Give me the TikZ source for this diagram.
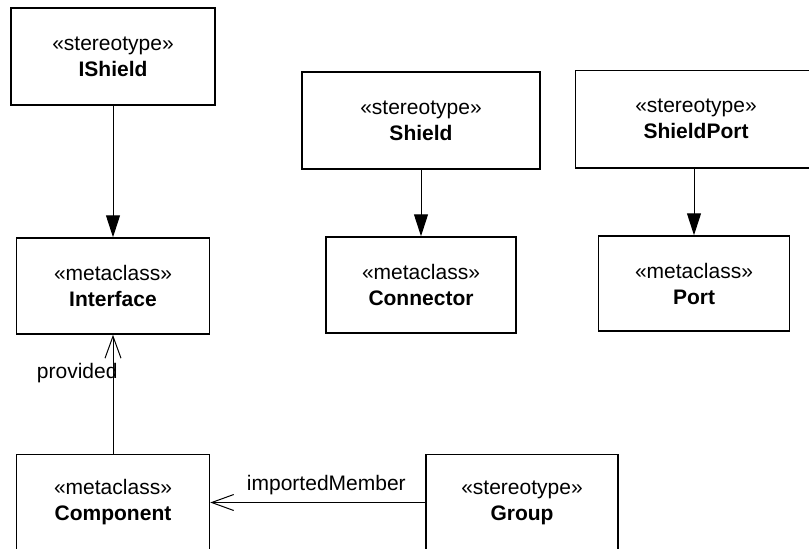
\documentclass[tikz,border=0pt]{standalone}
\usepackage{fontspec}
\setmainfont{Liberation Sans}
\usepackage{tikz}
\usetikzlibrary{arrows.meta}

\tikzset{
  umlbox/.style={draw,line width=1.5pt,rectangle,align=center,inner sep=0pt,
    minimum width=193pt,minimum height=96pt},
  extends/.style={line width=1pt,-{Triangle[width=14pt,length=22pt]}},
  assoc/.style={line width=1pt,-{Straight Barb[width=16pt,length=22pt]}},
}

\begin{document}
\begin{tikzpicture}[x=1pt,y=-1pt,font=\fontsize{21}{26}\selectfont]
\useasboundingbox (0,0) rectangle (809,549);
% stereotypes
\node[umlbox,minimum width=204pt,minimum height=97pt] (ishield) at (113,56.5) {«stereotype»\\\textbf{IShield}};
\node[umlbox,minimum width=238pt,minimum height=97pt] (shield) at (421,120.5) {«stereotype»\\\textbf{Shield}};
\node[umlbox,draw=none,minimum width=240pt,minimum height=96pt] (shieldport) at (696,119) {«stereotype»\\\textbf{ShieldPort}};
\draw[line width=1.5pt] (shieldport.north east) -- (shieldport.north west) -- (shieldport.south west) -- (shieldport.south east);
\node[umlbox,minimum width=192pt] (group) at (522,502.5) {«stereotype»\\\textbf{Group}};
% metaclasses
\node[umlbox] (interface) at (113,286) {«metaclass»\\\textbf{Interface}};
\node[umlbox,minimum width=190pt] (connector) at (421,285) {«metaclass»\\\textbf{Connector}};
\node[umlbox,minimum width=191pt,minimum height=95pt] (port) at (694,283.5) {«metaclass»\\\textbf{Port}};
\node[umlbox] (component) at (113,502.5) {«metaclass»\\\textbf{Component}};

\draw[extends] (ishield) -- (interface);
\draw[extends] (shield) -- (connector);
\draw[extends] (port.north |- shieldport.south) -- (port);
\draw[assoc] (component) -- (interface) node[pos=0.63,anchor=base east,xshift=5pt,inner sep=0pt]{provided};
\draw[assoc] (group) -- (component) node[pos=0.46,anchor=base,yshift=12pt,inner sep=0pt]{importedMember};
\end{tikzpicture}
\end{document}
